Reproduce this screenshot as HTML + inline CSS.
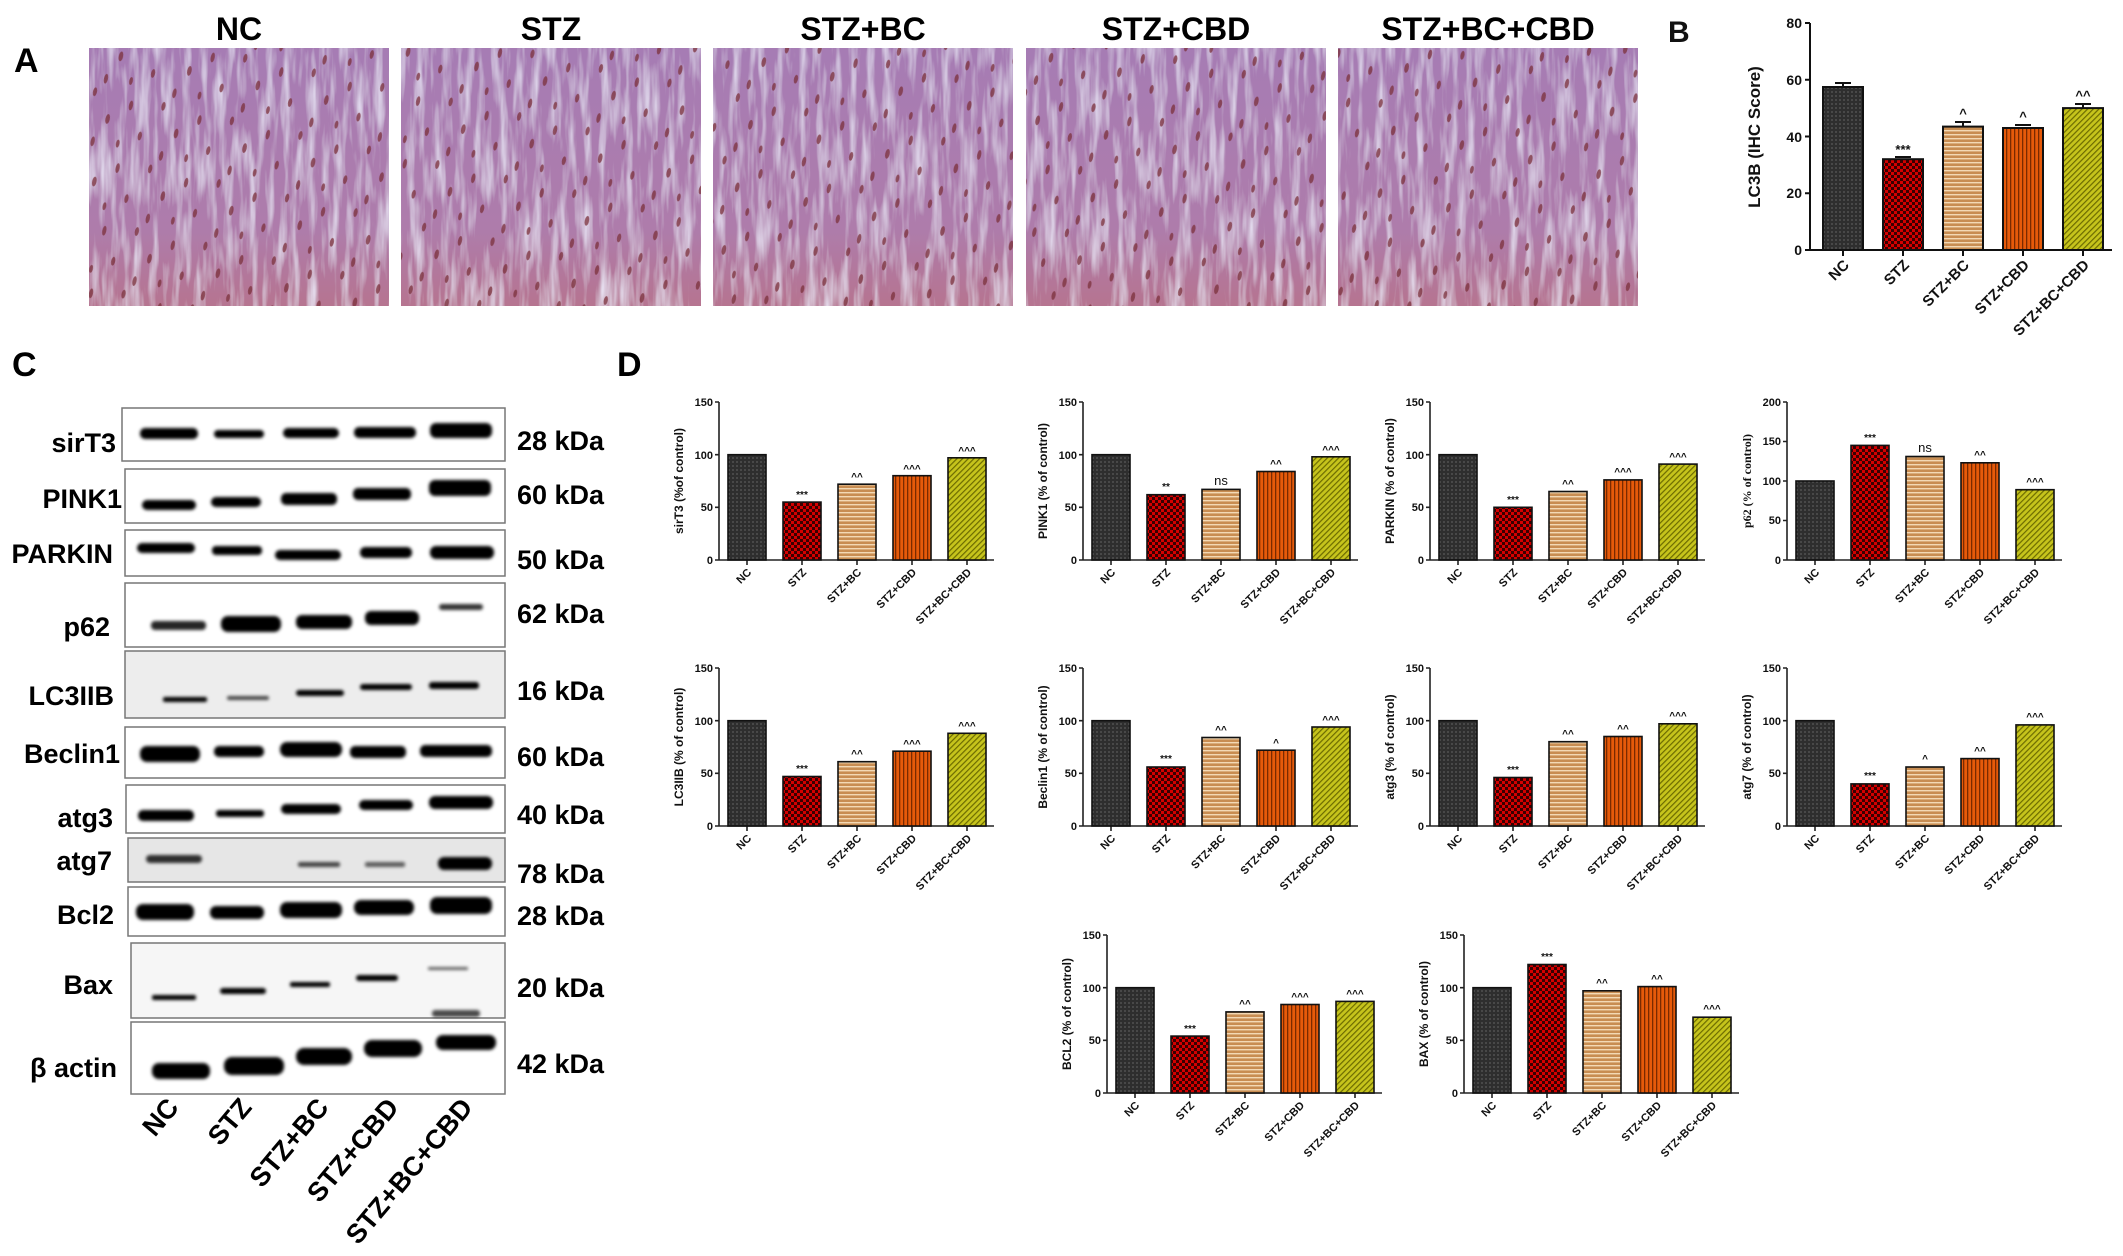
<!DOCTYPE html>
<html><head><meta charset="utf-8"><style>
html,body{margin:0;padding:0;background:#fff;}
svg{display:block;}
.t{font-family:"Liberation Sans",Arial,sans-serif;font-weight:bold;fill:#111;}
.n{font-family:"Liberation Sans Narrow","Liberation Sans",sans-serif;font-weight:bold;fill:#000;}
</style></head><body>
<svg width="2123" height="1256" viewBox="0 0 2123 1256" xmlns="http://www.w3.org/2000/svg">
<defs>
 <pattern id="pD" width="4" height="4" patternUnits="userSpaceOnUse"><rect width="4" height="4" fill="#2e2e2e"/><circle cx="2" cy="2" r="0.9" fill="#5a5a5a"/></pattern>
 <pattern id="pC" width="6" height="6" patternUnits="userSpaceOnUse"><rect width="6" height="6" fill="#d40000"/><rect width="3" height="3" fill="#3a0000"/><rect x="3" y="3" width="3" height="3" fill="#3a0000"/></pattern>
 <pattern id="pH" width="4" height="4" patternUnits="userSpaceOnUse"><rect width="4" height="4" fill="#c88d52"/><rect y="0" width="4" height="1.4" fill="#f3d9b5"/></pattern>
 <pattern id="pV" width="4" height="4" patternUnits="userSpaceOnUse"><rect width="4" height="4" fill="#e65a0a"/><rect width="1.3" height="4" fill="#7a2a00"/></pattern>
 <pattern id="pY" width="4" height="4" patternUnits="userSpaceOnUse" patternTransform="rotate(45)"><rect width="4" height="4" fill="#c6c41c"/><rect width="1.2" height="4" fill="#6b6a00"/></pattern>
 <pattern id="nuc" width="70" height="64" patternUnits="userSpaceOnUse" patternTransform="rotate(12)">
  <g fill="#7a2f3a" opacity="0.75">
   <ellipse cx="10" cy="12" rx="2" ry="5"/><ellipse cx="42" cy="6" rx="2" ry="4.5"/><ellipse cx="60" cy="30" rx="2.2" ry="5"/><ellipse cx="25" cy="40" rx="2" ry="4.5"/><ellipse cx="50" cy="55" rx="2" ry="5"/><ellipse cx="5" cy="52" rx="1.8" ry="4"/>
  </g>
 </pattern>
 <filter id="bl" x="-20%" y="-50%" width="140%" height="200%"><feGaussianBlur stdDeviation="1.6"/></filter>
 <filter id="tex" x="0" y="0" width="100%" height="100%">
  <feTurbulence type="fractalNoise" baseFrequency="0.12 0.015" numOctaves="3" seed="7" result="n"/>
  <feColorMatrix in="n" type="matrix" values="0 0 0 0 0.86  0 0 0 0 0.84  0 0 0 0 0.97  0 0 0 1.6 -0.7" result="c"/>
  <feComposite in="c" in2="SourceGraphic" operator="atop"/>
 </filter>
 <linearGradient id="ph" x1="0" y1="0" x2="0" y2="1"><stop offset="0" stop-color="#a67cb4"/><stop offset="0.7" stop-color="#ae7cab"/><stop offset="1" stop-color="#b67490"/></linearGradient>
</defs>

<!-- Panel A -->
<text x="14" y="72" class="n" font-size="34">A</text>
<g class="n" font-size="32" text-anchor="middle">
 <text x="239" y="40">NC</text><text x="551" y="40">STZ</text><text x="863" y="40">STZ+BC</text><text x="1176" y="40">STZ+CBD</text><text x="1488" y="40">STZ+BC+CBD</text>
</g>
<g filter="url(#tex)">
 <rect x="89" y="48" width="300" height="258" fill="url(#ph)"/>
 <rect x="401" y="48" width="300" height="258" fill="url(#ph)"/>
 <rect x="713" y="48" width="300" height="258" fill="url(#ph)"/>
 <rect x="1026" y="48" width="300" height="258" fill="url(#ph)"/>
 <rect x="1338" y="48" width="300" height="258" fill="url(#ph)"/>
</g>
<g fill="url(#nuc)">
 <rect x="89" y="48" width="300" height="258"/>
 <rect x="401" y="48" width="300" height="258"/>
 <rect x="713" y="48" width="300" height="258"/>
 <rect x="1026" y="48" width="300" height="258"/>
 <rect x="1338" y="48" width="300" height="258"/>
</g>

<!-- Panel B -->
<text x="1668" y="42" class="t" font-size="30" fill="#000">B</text>
<g transform="translate(1810,250)" class="t">
 <line x1="0" y1="0" x2="0" y2="-227" stroke="#111" stroke-width="2"/>
 <line x1="0" y1="0" x2="302" y2="0" stroke="#111" stroke-width="2"/>
 <g stroke="#111" stroke-width="2"><line x1="-5" y1="0" x2="0" y2="0"/><line x1="-5" y1="-56.75" x2="0" y2="-56.75"/><line x1="-5" y1="-113.5" x2="0" y2="-113.5"/><line x1="-5" y1="-170.25" x2="0" y2="-170.25"/><line x1="-5" y1="-227" x2="0" y2="-227"/>
 <line x1="33" y1="0" x2="33" y2="6"/><line x1="93" y1="0" x2="93" y2="6"/><line x1="153" y1="0" x2="153" y2="6"/><line x1="213" y1="0" x2="213" y2="6"/><line x1="273" y1="0" x2="273" y2="6"/></g>
 <g font-size="14" text-anchor="end"><text x="-8" y="5">0</text><text x="-8" y="-52">20</text><text x="-8" y="-108">40</text><text x="-8" y="-165">60</text><text x="-8" y="-222">80</text></g>
 <text transform="translate(-50,-113) rotate(-90)" font-size="17" text-anchor="middle">LC3B (IHC Score)</text>
 <g stroke="#111" stroke-width="2">
  <rect x="13" y="-163" width="40" height="163" fill="url(#pD)"/>
  <rect x="73" y="-90.8" width="40" height="90.8" fill="url(#pC)"/>
  <rect x="133" y="-123.4" width="40" height="123.4" fill="url(#pH)"/>
  <rect x="193" y="-122" width="40" height="122" fill="url(#pV)"/>
  <rect x="253" y="-141.9" width="40" height="141.9" fill="url(#pY)"/>
  <path d="M25 -167h16M33 -167v4M85 -93h16M145 -128h16M153 -128v5M205 -125h16M265 -146h16M273 -146v4" fill="none"/>
 </g>
 <g font-size="13" text-anchor="middle"><text x="93" y="-96">***</text><text x="153" y="-132">^</text><text x="213" y="-129">^</text><text x="273" y="-150">^^</text></g>
 <g font-size="15" text-anchor="end">
  <text transform="translate(40,16) rotate(-45)">NC</text><text transform="translate(100,16) rotate(-45)">STZ</text><text transform="translate(160,16) rotate(-45)">STZ+BC</text><text transform="translate(220,16) rotate(-45)">STZ+CBD</text><text transform="translate(280,16) rotate(-45)">STZ+BC+CBD</text>
 </g>
</g>

<!-- Panel C -->
<text x="12" y="376" class="n" font-size="34">C</text>
<g fill="#fff" stroke="#777" stroke-width="1.5">
 <rect x="122" y="408" width="383" height="53"/><rect x="125" y="469" width="380" height="54"/><rect x="125" y="530" width="380" height="46"/>
 <rect x="125" y="583" width="380" height="64"/><rect x="125" y="651" width="380" height="67" fill="#ededed"/><rect x="125" y="727" width="380" height="51"/>
 <rect x="126" y="785" width="379" height="48"/><rect x="128" y="838" width="377" height="44" fill="#e6e6e6"/><rect x="128" y="887" width="377" height="49"/>
 <rect x="131" y="943" width="374" height="75" fill="#f6f6f6"/><rect x="131" y="1022" width="374" height="72"/>
</g>
<g fill="#000" filter="url(#bl)">
 <rect x="140" y="428" width="58" height="11" rx="5"/><rect x="214" y="430" width="50" height="8" rx="4"/><rect x="283" y="428" width="56" height="10" rx="5"/><rect x="354" y="427" width="62" height="11" rx="5"/><rect x="430" y="423" width="62" height="15" rx="6"/>
 <rect x="142" y="500" width="54" height="10" rx="5"/><rect x="211" y="497" width="50" height="10" rx="5"/><rect x="281" y="493" width="56" height="12" rx="5"/><rect x="353" y="488" width="58" height="12" rx="5"/><rect x="429" y="480" width="62" height="16" rx="6"/>
 <rect x="137" y="543" width="58" height="10" rx="5"/><rect x="212" y="546" width="50" height="9" rx="4"/><rect x="275" y="550" width="66" height="10" rx="5"/><rect x="360" y="547" width="52" height="11" rx="5"/><rect x="430" y="546" width="64" height="13" rx="6"/>
 <rect x="151" y="621" width="55" height="9" rx="4" opacity="0.85"/><rect x="221" y="616" width="60" height="16" rx="7"/><rect x="296" y="615" width="56" height="14" rx="6"/><rect x="365" y="611" width="54" height="14" rx="6"/><rect x="439" y="604" width="44" height="6" rx="3" opacity="0.8"/>
 <rect x="163" y="697" width="44" height="5" rx="2"/><rect x="227" y="696" width="42" height="4" rx="2" opacity="0.7"/><rect x="296" y="690" width="48" height="6" rx="3"/><rect x="360" y="684" width="52" height="6" rx="3"/><rect x="429" y="682" width="50" height="7" rx="3"/>
 <rect x="140" y="746" width="60" height="16" rx="7"/><rect x="214" y="746" width="50" height="11" rx="5"/><rect x="280" y="742" width="62" height="15" rx="7"/><rect x="350" y="746" width="56" height="12" rx="5"/><rect x="420" y="745" width="72" height="12" rx="5"/>
 <rect x="138" y="810" width="56" height="11" rx="5"/><rect x="216" y="810" width="48" height="7" rx="3"/><rect x="281" y="804" width="60" height="10" rx="5"/><rect x="359" y="800" width="54" height="10" rx="5"/><rect x="429" y="796" width="64" height="13" rx="6"/>
 <rect x="146" y="855" width="56" height="8" rx="4" opacity="0.8"/><rect x="298" y="862" width="42" height="5" rx="2" opacity="0.7"/><rect x="365" y="862" width="40" height="5" rx="2" opacity="0.6"/><rect x="438" y="857" width="54" height="13" rx="6"/>
 <rect x="136" y="904" width="58" height="16" rx="7"/><rect x="210" y="906" width="54" height="13" rx="6"/><rect x="280" y="902" width="62" height="16" rx="7"/><rect x="354" y="900" width="60" height="15" rx="7"/><rect x="430" y="897" width="62" height="17" rx="7"/>
 <rect x="152" y="995" width="44" height="5" rx="2"/><rect x="220" y="988" width="46" height="6" rx="3"/><rect x="290" y="982" width="40" height="5" rx="2"/><rect x="356" y="975" width="42" height="6" rx="3"/><rect x="428" y="967" width="40" height="3" rx="1" opacity="0.6"/><rect x="432" y="1010" width="48" height="7" rx="3" opacity="0.7"/>
 <rect x="152" y="1063" width="58" height="16" rx="7"/><rect x="224" y="1057" width="60" height="18" rx="8"/><rect x="296" y="1048" width="56" height="17" rx="8"/><rect x="364" y="1040" width="58" height="17" rx="8"/><rect x="436" y="1035" width="60" height="15" rx="7"/>
</g>
<g class="n" font-size="27" text-anchor="end" style="font-family:'Liberation Sans',sans-serif">
 <text x="116" y="452">sirT3</text><text x="122" y="508">PINK1</text><text x="113" y="563">PARKIN</text><text x="110" y="636">p62</text><text x="114" y="705">LC3IIB</text><text x="120" y="763">Beclin1</text><text x="113" y="827">atg3</text><text x="112" y="870">atg7</text><text x="114" y="924">Bcl2</text><text x="113" y="994">Bax</text><text x="117" y="1077">β actin</text>
</g>
<g class="n" font-size="27" style="font-family:'Liberation Sans',sans-serif">
 <text x="517" y="450">28 kDa</text><text x="517" y="504">60 kDa</text><text x="517" y="569">50 kDa</text><text x="517" y="623">62 kDa</text><text x="517" y="700">16 kDa</text><text x="517" y="766">60 kDa</text><text x="517" y="824">40 kDa</text><text x="517" y="883">78 kDa</text><text x="517" y="925">28 kDa</text><text x="517" y="997">20 kDa</text><text x="517" y="1073">42 kDa</text>
</g>
<g class="n" font-size="27" text-anchor="end" style="font-family:'Liberation Sans',sans-serif">
 <text transform="translate(180,1108) rotate(-50)">NC</text><text transform="translate(253,1108) rotate(-50)">STZ</text><text transform="translate(330,1108) rotate(-50)">STZ+BC</text><text transform="translate(400,1108) rotate(-50)">STZ+CBD</text><text transform="translate(474,1108) rotate(-50)">STZ+BC+CBD</text>
</g>

<!-- Panel D -->
<text x="617" y="376" class="n" font-size="34">D</text>

<g class="t" transform="translate(719,560)">
 <g stroke="#222" stroke-width="1.6" fill="none"><path d="M0 -158V0H275M-4 0H0M-4 -52.7H0M-4 -105.3H0M-4 -158H0M28 0v5M83 0v5M138 0v5M193 0v5M248 0v5"/></g>
 <g font-size="11" text-anchor="end"><text x="-6" y="4">0</text><text x="-6" y="-49">50</text><text x="-6" y="-101">100</text><text x="-6" y="-154">150</text></g>
 <text transform="translate(-36,-79) rotate(-90)" font-size="12" text-anchor="middle">sirT3 (%of control)</text>
 <g stroke="#111" stroke-width="1.6"><rect x="9" y="-105.3" width="38" height="105.3" fill="url(#pD)"/><rect x="64" y="-57.9" width="38" height="57.9" fill="url(#pC)"/><rect x="119" y="-75.8" width="38" height="75.8" fill="url(#pH)"/><rect x="174" y="-84.3" width="38" height="84.3" fill="url(#pV)"/><rect x="229" y="-102.2" width="38" height="102.2" fill="url(#pY)"/></g>
 <g font-size="10" text-anchor="middle"><text x="83" y="-62">***</text><text x="138" y="-80">^^</text><text x="193" y="-88">^^^</text><text x="248" y="-106">^^^</text></g>
 <g font-size="11" text-anchor="end"><text transform="translate(33,13) rotate(-45)">NC</text><text transform="translate(88,13) rotate(-45)">STZ</text><text transform="translate(143,13) rotate(-45)">STZ+BC</text><text transform="translate(198,13) rotate(-45)">STZ+CBD</text><text transform="translate(253,13) rotate(-45)">STZ+BC+CBD</text></g>
</g>

<g class="t" transform="translate(1083,560)">
 <g stroke="#222" stroke-width="1.6" fill="none"><path d="M0 -158V0H275M-4 0H0M-4 -52.7H0M-4 -105.3H0M-4 -158H0M28 0v5M83 0v5M138 0v5M193 0v5M248 0v5"/></g>
 <g font-size="11" text-anchor="end"><text x="-6" y="4">0</text><text x="-6" y="-49">50</text><text x="-6" y="-101">100</text><text x="-6" y="-154">150</text></g>
 <text transform="translate(-36,-79) rotate(-90)" font-size="12" text-anchor="middle">PINK1 (% of control)</text>
 <g stroke="#111" stroke-width="1.6"><rect x="9" y="-105.3" width="38" height="105.3" fill="url(#pD)"/><rect x="64" y="-65.3" width="38" height="65.3" fill="url(#pC)"/><rect x="119" y="-70.6" width="38" height="70.6" fill="url(#pH)"/><rect x="174" y="-88.5" width="38" height="88.5" fill="url(#pV)"/><rect x="229" y="-103.2" width="38" height="103.2" fill="url(#pY)"/></g>
 <g font-size="10" text-anchor="middle"><text x="83" y="-70">**</text><text x="138" y="-75" font-size="13" font-weight="normal">ns</text><text x="193" y="-93">^^</text><text x="248" y="-107">^^^</text></g>
 <g font-size="11" text-anchor="end"><text transform="translate(33,13) rotate(-45)">NC</text><text transform="translate(88,13) rotate(-45)">STZ</text><text transform="translate(143,13) rotate(-45)">STZ+BC</text><text transform="translate(198,13) rotate(-45)">STZ+CBD</text><text transform="translate(253,13) rotate(-45)">STZ+BC+CBD</text></g>
</g>

<g class="t" transform="translate(1430,560)">
 <g stroke="#222" stroke-width="1.6" fill="none"><path d="M0 -158V0H275M-4 0H0M-4 -52.7H0M-4 -105.3H0M-4 -158H0M28 0v5M83 0v5M138 0v5M193 0v5M248 0v5"/></g>
 <g font-size="11" text-anchor="end"><text x="-6" y="4">0</text><text x="-6" y="-49">50</text><text x="-6" y="-101">100</text><text x="-6" y="-154">150</text></g>
 <text transform="translate(-36,-79) rotate(-90)" font-size="12" text-anchor="middle">PARKIN (% of control)</text>
 <g stroke="#111" stroke-width="1.6"><rect x="9" y="-105.3" width="38" height="105.3" fill="url(#pD)"/><rect x="64" y="-52.7" width="38" height="52.7" fill="url(#pC)"/><rect x="119" y="-68.5" width="38" height="68.5" fill="url(#pH)"/><rect x="174" y="-80.1" width="38" height="80.1" fill="url(#pV)"/><rect x="229" y="-95.9" width="38" height="95.9" fill="url(#pY)"/></g>
 <g font-size="10" text-anchor="middle"><text x="83" y="-57">***</text><text x="138" y="-73">^^</text><text x="193" y="-85">^^^</text><text x="248" y="-100">^^^</text></g>
 <g font-size="11" text-anchor="end"><text transform="translate(33,13) rotate(-45)">NC</text><text transform="translate(88,13) rotate(-45)">STZ</text><text transform="translate(143,13) rotate(-45)">STZ+BC</text><text transform="translate(198,13) rotate(-45)">STZ+CBD</text><text transform="translate(253,13) rotate(-45)">STZ+BC+CBD</text></g>
</g>

<g class="t" transform="translate(1787,560)">
 <g stroke="#222" stroke-width="1.6" fill="none"><path d="M0 -158V0H275M-4 0H0M-4 -39.5H0M-4 -79H0M-4 -118.5H0M-4 -158H0M28 0v5M83 0v5M138 0v5M193 0v5M248 0v5"/></g>
 <g font-size="11" text-anchor="end"><text x="-6" y="4">0</text><text x="-6" y="-36">50</text><text x="-6" y="-75">100</text><text x="-6" y="-115">150</text><text x="-6" y="-154">200</text></g>
 <text transform="translate(-36,-79) rotate(-90)" font-size="12" text-anchor="middle" style="font-family:'Liberation Serif',serif">p62 (% of control)</text>
 <g stroke="#111" stroke-width="1.6"><rect x="9" y="-79" width="38" height="79" fill="url(#pD)"/><rect x="64" y="-114.6" width="38" height="114.6" fill="url(#pC)"/><rect x="119" y="-103.5" width="38" height="103.5" fill="url(#pH)"/><rect x="174" y="-97.2" width="38" height="97.2" fill="url(#pV)"/><rect x="229" y="-70.3" width="38" height="70.3" fill="url(#pY)"/></g>
 <g font-size="10" text-anchor="middle"><text x="83" y="-119">***</text><text x="138" y="-108" font-size="13" font-weight="normal">ns</text><text x="193" y="-102">^^</text><text x="248" y="-75">^^^</text></g>
 <g font-size="11" text-anchor="end"><text transform="translate(33,13) rotate(-45)">NC</text><text transform="translate(88,13) rotate(-45)">STZ</text><text transform="translate(143,13) rotate(-45)">STZ+BC</text><text transform="translate(198,13) rotate(-45)">STZ+CBD</text><text transform="translate(253,13) rotate(-45)">STZ+BC+CBD</text></g>
</g>

<g class="t" transform="translate(719,826)">
 <g stroke="#222" stroke-width="1.6" fill="none"><path d="M0 -158V0H275M-4 0H0M-4 -52.7H0M-4 -105.3H0M-4 -158H0M28 0v5M83 0v5M138 0v5M193 0v5M248 0v5"/></g>
 <g font-size="11" text-anchor="end"><text x="-6" y="4">0</text><text x="-6" y="-49">50</text><text x="-6" y="-101">100</text><text x="-6" y="-154">150</text></g>
 <text transform="translate(-36,-79) rotate(-90)" font-size="12" text-anchor="middle">LC3IIB (% of control)</text>
 <g stroke="#111" stroke-width="1.6"><rect x="9" y="-105.3" width="38" height="105.3" fill="url(#pD)"/><rect x="64" y="-49.5" width="38" height="49.5" fill="url(#pC)"/><rect x="119" y="-64.3" width="38" height="64.3" fill="url(#pH)"/><rect x="174" y="-74.8" width="38" height="74.8" fill="url(#pV)"/><rect x="229" y="-92.7" width="38" height="92.7" fill="url(#pY)"/></g>
 <g font-size="10" text-anchor="middle"><text x="83" y="-54">***</text><text x="138" y="-69">^^</text><text x="193" y="-79">^^^</text><text x="248" y="-97">^^^</text></g>
 <g font-size="11" text-anchor="end"><text transform="translate(33,13) rotate(-45)">NC</text><text transform="translate(88,13) rotate(-45)">STZ</text><text transform="translate(143,13) rotate(-45)">STZ+BC</text><text transform="translate(198,13) rotate(-45)">STZ+CBD</text><text transform="translate(253,13) rotate(-45)">STZ+BC+CBD</text></g>
</g>

<g class="t" transform="translate(1083,826)">
 <g stroke="#222" stroke-width="1.6" fill="none"><path d="M0 -158V0H275M-4 0H0M-4 -52.7H0M-4 -105.3H0M-4 -158H0M28 0v5M83 0v5M138 0v5M193 0v5M248 0v5"/></g>
 <g font-size="11" text-anchor="end"><text x="-6" y="4">0</text><text x="-6" y="-49">50</text><text x="-6" y="-101">100</text><text x="-6" y="-154">150</text></g>
 <text transform="translate(-36,-79) rotate(-90)" font-size="12" text-anchor="middle">Beclin1 (% of control)</text>
 <g stroke="#111" stroke-width="1.6"><rect x="9" y="-105.3" width="38" height="105.3" fill="url(#pD)"/><rect x="64" y="-59" width="38" height="59" fill="url(#pC)"/><rect x="119" y="-88.5" width="38" height="88.5" fill="url(#pH)"/><rect x="174" y="-75.8" width="38" height="75.8" fill="url(#pV)"/><rect x="229" y="-99" width="38" height="99" fill="url(#pY)"/></g>
 <g font-size="10" text-anchor="middle"><text x="83" y="-64">***</text><text x="138" y="-93">^^</text><text x="193" y="-80">^</text><text x="248" y="-103">^^^</text></g>
 <g font-size="11" text-anchor="end"><text transform="translate(33,13) rotate(-45)">NC</text><text transform="translate(88,13) rotate(-45)">STZ</text><text transform="translate(143,13) rotate(-45)">STZ+BC</text><text transform="translate(198,13) rotate(-45)">STZ+CBD</text><text transform="translate(253,13) rotate(-45)">STZ+BC+CBD</text></g>
</g>

<g class="t" transform="translate(1430,826)">
 <g stroke="#222" stroke-width="1.6" fill="none"><path d="M0 -158V0H275M-4 0H0M-4 -52.7H0M-4 -105.3H0M-4 -158H0M28 0v5M83 0v5M138 0v5M193 0v5M248 0v5"/></g>
 <g font-size="11" text-anchor="end"><text x="-6" y="4">0</text><text x="-6" y="-49">50</text><text x="-6" y="-101">100</text><text x="-6" y="-154">150</text></g>
 <text transform="translate(-36,-79) rotate(-90)" font-size="12" text-anchor="middle">atg3 (% of control)</text>
 <g stroke="#111" stroke-width="1.6"><rect x="9" y="-105.3" width="38" height="105.3" fill="url(#pD)"/><rect x="64" y="-48.5" width="38" height="48.5" fill="url(#pC)"/><rect x="119" y="-84.3" width="38" height="84.3" fill="url(#pH)"/><rect x="174" y="-89.5" width="38" height="89.5" fill="url(#pV)"/><rect x="229" y="-102.2" width="38" height="102.2" fill="url(#pY)"/></g>
 <g font-size="10" text-anchor="middle"><text x="83" y="-53">***</text><text x="138" y="-89">^^</text><text x="193" y="-94">^^</text><text x="248" y="-107">^^^</text></g>
 <g font-size="11" text-anchor="end"><text transform="translate(33,13) rotate(-45)">NC</text><text transform="translate(88,13) rotate(-45)">STZ</text><text transform="translate(143,13) rotate(-45)">STZ+BC</text><text transform="translate(198,13) rotate(-45)">STZ+CBD</text><text transform="translate(253,13) rotate(-45)">STZ+BC+CBD</text></g>
</g>

<g class="t" transform="translate(1787,826)">
 <g stroke="#222" stroke-width="1.6" fill="none"><path d="M0 -158V0H275M-4 0H0M-4 -52.7H0M-4 -105.3H0M-4 -158H0M28 0v5M83 0v5M138 0v5M193 0v5M248 0v5"/></g>
 <g font-size="11" text-anchor="end"><text x="-6" y="4">0</text><text x="-6" y="-49">50</text><text x="-6" y="-101">100</text><text x="-6" y="-154">150</text></g>
 <text transform="translate(-36,-79) rotate(-90)" font-size="12" text-anchor="middle">atg7 (% of control)</text>
 <g stroke="#111" stroke-width="1.6"><rect x="9" y="-105.3" width="38" height="105.3" fill="url(#pD)"/><rect x="64" y="-42.1" width="38" height="42.1" fill="url(#pC)"/><rect x="119" y="-59" width="38" height="59" fill="url(#pH)"/><rect x="174" y="-67.4" width="38" height="67.4" fill="url(#pV)"/><rect x="229" y="-101.1" width="38" height="101.1" fill="url(#pY)"/></g>
 <g font-size="10" text-anchor="middle"><text x="83" y="-47">***</text><text x="138" y="-64">^</text><text x="193" y="-72">^^</text><text x="248" y="-106">^^^</text></g>
 <g font-size="11" text-anchor="end"><text transform="translate(33,13) rotate(-45)">NC</text><text transform="translate(88,13) rotate(-45)">STZ</text><text transform="translate(143,13) rotate(-45)">STZ+BC</text><text transform="translate(198,13) rotate(-45)">STZ+CBD</text><text transform="translate(253,13) rotate(-45)">STZ+BC+CBD</text></g>
</g>

<g class="t" transform="translate(1107,1093)">
 <g stroke="#222" stroke-width="1.6" fill="none"><path d="M0 -158V0H275M-4 0H0M-4 -52.7H0M-4 -105.3H0M-4 -158H0M28 0v5M83 0v5M138 0v5M193 0v5M248 0v5"/></g>
 <g font-size="11" text-anchor="end"><text x="-6" y="4">0</text><text x="-6" y="-49">50</text><text x="-6" y="-101">100</text><text x="-6" y="-154">150</text></g>
 <text transform="translate(-36,-79) rotate(-90)" font-size="12" text-anchor="middle">BCL2 (% of control)</text>
 <g stroke="#111" stroke-width="1.6"><rect x="9" y="-105.3" width="38" height="105.3" fill="url(#pD)"/><rect x="64" y="-56.9" width="38" height="56.9" fill="url(#pC)"/><rect x="119" y="-81.1" width="38" height="81.1" fill="url(#pH)"/><rect x="174" y="-88.5" width="38" height="88.5" fill="url(#pV)"/><rect x="229" y="-91.6" width="38" height="91.6" fill="url(#pY)"/></g>
 <g font-size="10" text-anchor="middle"><text x="83" y="-61">***</text><text x="138" y="-86">^^</text><text x="193" y="-93">^^^</text><text x="248" y="-96">^^^</text></g>
 <g font-size="11" text-anchor="end"><text transform="translate(33,13) rotate(-45)">NC</text><text transform="translate(88,13) rotate(-45)">STZ</text><text transform="translate(143,13) rotate(-45)">STZ+BC</text><text transform="translate(198,13) rotate(-45)">STZ+CBD</text><text transform="translate(253,13) rotate(-45)">STZ+BC+CBD</text></g>
</g>

<g class="t" transform="translate(1464,1093)">
 <g stroke="#222" stroke-width="1.6" fill="none"><path d="M0 -158V0H275M-4 0H0M-4 -52.7H0M-4 -105.3H0M-4 -158H0M28 0v5M83 0v5M138 0v5M193 0v5M248 0v5"/></g>
 <g font-size="11" text-anchor="end"><text x="-6" y="4">0</text><text x="-6" y="-49">50</text><text x="-6" y="-101">100</text><text x="-6" y="-154">150</text></g>
 <text transform="translate(-36,-79) rotate(-90)" font-size="12" text-anchor="middle">BAX (% of control)</text>
 <g stroke="#111" stroke-width="1.6"><rect x="9" y="-105.3" width="38" height="105.3" fill="url(#pD)"/><rect x="64" y="-128.5" width="38" height="128.5" fill="url(#pC)"/><rect x="119" y="-102.2" width="38" height="102.2" fill="url(#pH)"/><rect x="174" y="-106.4" width="38" height="106.4" fill="url(#pV)"/><rect x="229" y="-75.8" width="38" height="75.8" fill="url(#pY)"/></g>
 <g font-size="10" text-anchor="middle"><text x="83" y="-133">***</text><text x="138" y="-107">^^</text><text x="193" y="-111">^^</text><text x="248" y="-81">^^^</text></g>
 <g font-size="11" text-anchor="end"><text transform="translate(33,13) rotate(-45)">NC</text><text transform="translate(88,13) rotate(-45)">STZ</text><text transform="translate(143,13) rotate(-45)">STZ+BC</text><text transform="translate(198,13) rotate(-45)">STZ+CBD</text><text transform="translate(253,13) rotate(-45)">STZ+BC+CBD</text></g>
</g>
</svg>
</body></html>
